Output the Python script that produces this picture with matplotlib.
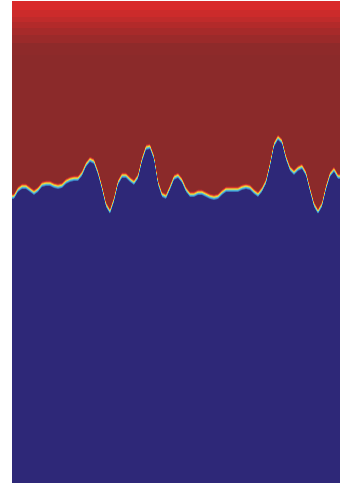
import numpy as np
import matplotlib
matplotlib.use("Agg")
import matplotlib.pyplot as plt
from matplotlib.colors import LinearSegmentedColormap

# depth (pixels from top) of the blue region's edge, one value per grid column
col_x = np.arange(14, 340, 4)
boundary = [197, 190, 187, 187, 190, 193, 190, 185, 184, 184,
            186, 187, 186, 182, 180, 179, 179, 174, 165, 160,
            162, 173, 188, 205, 212, 200, 183, 176, 176, 180,
            183, 177, 160, 148, 147, 158, 183, 195, 197, 188,
            178, 176, 181, 190, 195, 195, 193, 193, 195, 197,
            198, 197, 193, 190, 190, 190, 190, 188, 187, 188,
            192, 195, 190, 182, 165, 145, 138, 142, 158, 169,
            173, 169, 167, 174, 190, 205, 212, 205, 188, 175,
            170, 177]

# bright bands at the top: band edges (depth) and level of each band
band_edges = [1, 10, 17, 22, 28, 35, 43, 55]
band_level = [0.0, 0.17, 0.33, 0.5, 0.67, 0.83, 1.0]

field_cmap = LinearSegmentedColormap.from_list(
    "field",
    [(0.0, "#2e2878"), (0.25, "#2e2878"), (0.38, "#3f8fd0"),
     (0.48, "#5cc8d4"), (0.58, "#f2dc3c"), (0.68, "#e8862e"),
     (0.76, "#d22f2b"), (0.88, "#8b2a2a"), (1.0, "#8b2a2a")])
band_cmap = LinearSegmentedColormap.from_list("band", ["#d92b2b", "#8e2a2a"])

top, bottom = 1, 483
nrows = 161
row_y = top + (np.arange(nrows) + 0.5) * (bottom - top) / nrows
# signed vertical distance to the edge (positive = red side)
dist = np.array(boundary)[None, :] - row_y[:, None]

fig = plt.figure(figsize=(3.4, 4.83), dpi=100)
ax = fig.add_axes([12 / 340, 0, 328 / 340, 482 / 483])
ax.imshow(dist, cmap=field_cmap, vmin=-5, vmax=5, aspect="auto",
          extent=(12, 340, bottom, top), interpolation="bilinear",
          interpolation_stage="data")
ax.pcolormesh([12, 340], band_edges, np.array(band_level)[:, None],
              cmap=band_cmap, vmin=0, vmax=1)
ax.set_xlim(12, 340)
ax.set_ylim(bottom, top)
ax.set_axis_off()
fig.savefig("out.png", dpi=100)
